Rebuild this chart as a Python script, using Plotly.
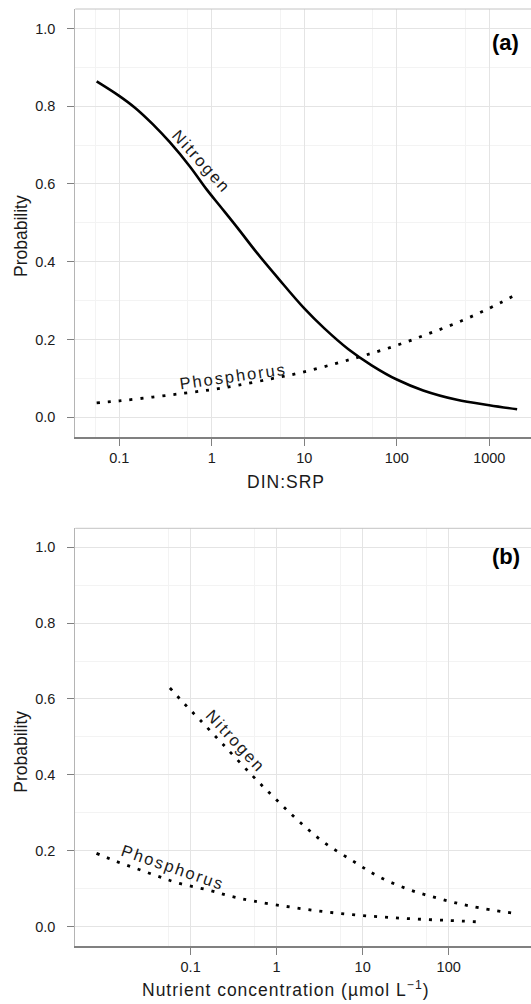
import plotly.graph_objects as go

# ---------------- Panel (a): probability vs DIN:SRP ----------------
a_nitrogen_x = [0.057, 0.098, 0.15, 0.23, 0.35, 0.58, 0.88, 1.24, 1.9, 3.1, 5.2,
                10, 16.6, 30, 54, 100, 193, 447, 1000, 2000]
a_nitrogen_p = [0.864, 0.828, 0.795, 0.754, 0.708, 0.645, 0.586, 0.542, 0.487, 0.422, 0.358,
                0.280, 0.228, 0.175, 0.133, 0.097, 0.069, 0.045, 0.031, 0.0205]

a_phosphorus_x = [0.057, 0.1, 0.23, 0.51, 1, 1.9, 4.4, 9.3, 21.7, 44.7, 100,
                  210, 447, 955, 2000]
a_phosphorus_p = [0.037, 0.042, 0.052, 0.062, 0.071, 0.082, 0.099, 0.115, 0.138, 0.159, 0.185,
                  0.213, 0.243, 0.278, 0.317]

a_tickvals = [0.1, 1, 10, 100, 1000]
a_ticktext = ["0.1", "1", "10", "100", "1000"]
a_minor = [0.055, 0.55, 5.5, 55, 550]

# ---------------- Panel (b): probability vs nutrient concentration ----------------
b_nitrogen_x = [0.0574, 0.0849, 0.128, 0.234, 0.521, 0.966, 1.77, 3.49, 7.55, 15.5,
                35.1, 79.4, 186, 611]
b_nitrogen_p = [0.629, 0.587, 0.545, 0.482, 0.398, 0.337, 0.280, 0.223, 0.174, 0.131,
                0.097, 0.073, 0.053, 0.034]

b_phosphorus_x = [0.00805, 0.0139, 0.0239, 0.0411, 0.0708, 0.168, 0.302, 0.545, 1.29,
                  3.05, 7.21, 17.0, 39.8, 100, 236]
b_phosphorus_p = [0.193, 0.171, 0.152, 0.133, 0.115, 0.095, 0.079, 0.067, 0.053,
                  0.041, 0.0318, 0.025, 0.020, 0.016, 0.012]

b_tickvals = [0.1, 1, 10, 100]
b_ticktext = ["0.1", "1", "10", "100"]
b_minor = [0.055, 0.55, 5.5, 55]

y_tickvals = [0, 0.2, 0.4, 0.6, 0.8, 1.0]
y_ticktext = ["0.0", "0.2", "0.4", "0.6", "0.8", "1.0"]
y_minor = [0.1, 0.3, 0.5, 0.7, 0.9]

FONT = "Liberation Sans, Arial, Helvetica, sans-serif"
INK = "#1a1a1a"
DOT = "3px,8px"

fig = go.Figure()

def curve(x, y, xa, ya, dash=None, width=2.8):
    fig.add_trace(go.Scatter(x=x, y=y, mode="lines",
                             line=dict(color="black", width=width, dash=dash,
                                       shape="spline", smoothing=1.0),
                             xaxis=xa, yaxis=ya, showlegend=False, hoverinfo="skip"))

curve(a_nitrogen_x, a_nitrogen_p, "x", "y", dash="solid", width=2.6)
curve(a_phosphorus_x, a_phosphorus_p, "x", "y", dash=DOT)
curve(b_nitrogen_x, b_nitrogen_p, "x2", "y2", dash=DOT)
curve(b_phosphorus_x, b_phosphorus_p, "x2", "y2", dash=DOT)

X_DOM = [75.2 / 531, 1.0]
A_DOM = [1 - 436.7 / 1004, 1 - 9 / 1004]
B_DOM = [1 - 945.5 / 1004, 1 - 528.3 / 1004]

def xaxis(dom, rng, anchor, tv, tt, minor):
    return dict(type="log", domain=dom, range=rng, anchor=anchor, automargin=False,
                tickmode="array", tickvals=tv, ticktext=tt,
                showgrid=True, gridcolor="#e4e4e4", gridwidth=1,
                minor=dict(tickmode="array", tickvals=minor, showgrid=True,
                           gridcolor="#f3f3f3", gridwidth=1, ticks=""),
                ticks="outside", ticklen=7, tickwidth=1, tickcolor="#808080",
                showline=True, linecolor="#808080", linewidth=2,
                zeroline=False, tickfont=dict(family=FONT, size=14.5, color=INK))

def yaxis(dom, anchor):
    return dict(domain=dom, range=[-0.05, 1.05], anchor=anchor, automargin=False,
                tickmode="array", tickvals=y_tickvals, ticktext=y_ticktext,
                showgrid=True, gridcolor="#e4e4e4", gridwidth=1,
                minor=dict(tickmode="array", tickvals=y_minor, showgrid=True,
                           gridcolor="#f3f3f3", gridwidth=1, ticks=""),
                ticks="outside", ticklen=7, tickwidth=1, tickcolor="#808080",
                showline=True, linecolor="#b4b4b4", linewidth=1,
                zeroline=False, tickfont=dict(family=FONT, size=14.5, color=INK),
                ticklabelstandoff=9)

fig.update_layout(
    width=531, height=1004,
    margin=dict(l=0, r=0, t=0, b=0, autoexpand=False),
    paper_bgcolor="white", plot_bgcolor="white",
    font=dict(family=FONT, color=INK),
    xaxis=xaxis(X_DOM, [-1.476, 3.451], "y", a_tickvals, a_ticktext, a_minor),
    yaxis=yaxis(A_DOM, "x"),
    xaxis2=xaxis(X_DOM, [-2.342, 2.957], "y2", b_tickvals, b_ticktext, b_minor),
    yaxis2=yaxis(B_DOM, "x2"),
)

# top border of each panel
for dom in (A_DOM, B_DOM):
    fig.add_shape(type="line", xref="paper", yref="paper",
                  x0=X_DOM[0], x1=X_DOM[1], y0=dom[1], y1=dom[1],
                  line=dict(color="#c4c4c4", width=1))

def note(text, x, y, size, xref="paper", yref="paper", angle=0, color=INK):
    fig.add_annotation(text=text, x=x, y=y, xref=xref, yref=yref, textangle=angle,
                       showarrow=False, font=dict(family=FONT, size=size, color=color),
                       xanchor="center", yanchor="middle")

def label(text, x, y, angle, xref, yref):
    note('<span style="letter-spacing:2px">' + text + '</span>', x, y, 16.5,
         xref=xref, yref=yref, angle=angle)

# curve labels (log10 x positions on log axes)
label("Nitrogen", -0.109, 0.660, 48, "x", "y")
label("Phosphorus", 0.233, 0.107, -8, "x", "y")
label("Nitrogen", -0.470, 0.490, 47, "x2", "y2")
label("Phosphorus", -1.208, 0.156, 19, "x2", "y2")

# panel tags
note("<b>(a)</b>", 505 / 531, 1 - 42.5 / 1004, 22, color="black")
note("<b>(b)</b>", 506 / 531, 1 - 556.7 / 1004, 22, color="black")

# axis titles
note('<span style="letter-spacing:1px">DIN:SRP</span>', 286 / 531, 1 - 482 / 1004, 17.5)
note('<span style="letter-spacing:1px">Nutrient concentration (µmol L<sup>−1</sup>)</span>',
     286 / 531, 1 - 989 / 1004, 17.5)
for yc in (236, 751.7):
    note("Probability", 21 / 531, 1 - yc / 1004, 17.5, angle=-90)

fig.write_html("out.html", config={"displayModeBar": False},
               post_script="document.body.style.margin='0';document.documentElement.style.overflow='hidden';")
